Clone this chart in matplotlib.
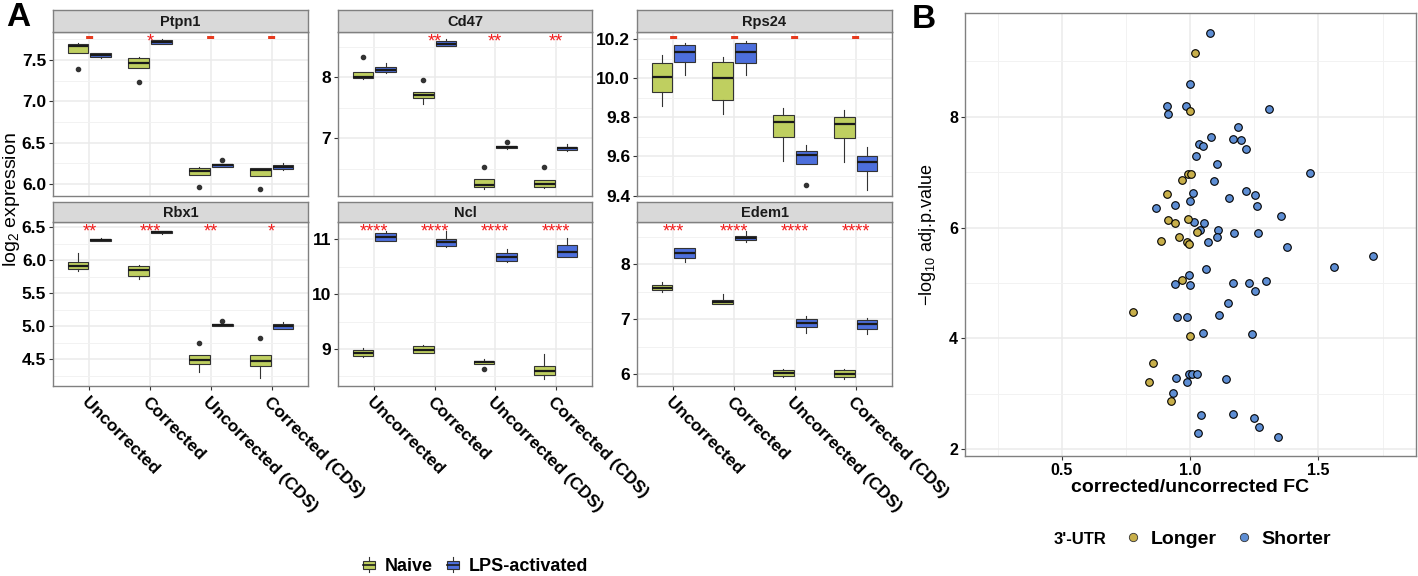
import numpy as np
import matplotlib.pyplot as plt
from matplotlib.lines import Line2D
from matplotlib.patches import Patch, Rectangle
from matplotlib.legend_handler import HandlerBase

plt.rcParams['font.family'] = ['Liberation Sans', 'DejaVu Sans']
plt.rcParams['mathtext.fontset'] = 'custom'
plt.rcParams['mathtext.rm'] = 'Liberation Sans'
plt.rcParams['mathtext.it'] = 'Liberation Sans:italic'
plt.rcParams['mathtext.bf'] = 'Liberation Sans:bold'

# ---- Panel A data: five-number summaries [whislo, q1, med, q3, whishi] ----
conditions = ["Uncorrected", "Corrected", "Uncorrected (CDS)", "Corrected (CDS)"]
genes = ["Ptpn1", "Cd47", "Rps24", "Rbx1", "Ncl", "Edem1"]

ptpn1_naive = [[7.59, 7.59, 7.67, 7.69, 7.71], [7.41, 7.41, 7.47, 7.52, 7.54],
               [6.11, 6.11, 6.16, 6.19, 6.20], [6.10, 6.10, 6.17, 6.19, 6.19]]
ptpn1_naive_out = [[7.39], [7.23], [5.96], [5.94]]
ptpn1_lps = [[7.52, 7.54, 7.56, 7.58, 7.58], [7.70, 7.70, 7.72, 7.74, 7.75],
             [6.21, 6.21, 6.23, 6.24, 6.24], [6.17, 6.18, 6.21, 6.23, 6.26]]
ptpn1_lps_out = [[], [], [6.29], []]
ptpn1_sig = ["-", "*", "-", "-"]

cd47_naive = [[7.97, 7.98, 8.00, 8.09, 8.09], [7.56, 7.65, 7.70, 7.76, 7.76],
              [6.17, 6.19, 6.23, 6.33, 6.33], [6.18, 6.20, 6.25, 6.31, 6.31]]
cd47_naive_out = [[8.33], [7.96], [6.52], [6.52]]
cd47_lps = [[8.07, 8.08, 8.12, 8.16, 8.23], [8.51, 8.51, 8.55, 8.59, 8.62],
            [6.82, 6.83, 6.85, 6.87, 6.87], [6.79, 6.80, 6.83, 6.86, 6.90]]
cd47_lps_out = [[], [], [6.94], []]
cd47_sig = ["", "**", "**", "**"]

rps24_naive = [[9.86, 9.927, 10.007, 10.077, 10.12], [9.815, 9.89, 10.0, 10.085, 10.11],
               [9.575, 9.70, 9.774, 9.81, 9.85], [9.57, 9.695, 9.765, 9.80, 9.837]]
rps24_naive_out = [[], [], [], []]
rps24_lps = [[10.015, 10.085, 10.135, 10.17, 10.18], [10.017, 10.077, 10.136, 10.18, 10.19],
             [9.561, 9.561, 9.609, 9.628, 9.66], [9.43, 9.527, 9.574, 9.60, 9.646]]
rps24_lps_out = [[], [], [9.454], []]
rps24_sig = ["-", "-", "-", "-"]

rbx1_naive = [[5.84, 5.874, 5.92, 5.98, 6.106], [5.71, 5.758, 5.853, 5.92, 5.93],
              [4.31, 4.435, 4.49, 4.56, 4.56], [4.21, 4.40, 4.475, 4.565, 4.565]]
rbx1_naive_out = [[], [], [4.75], [4.82]]
rbx1_lps = [[6.30, 6.30, 6.315, 6.33, 6.34], [6.40, 6.41, 6.425, 6.44, 6.45],
            [5.0, 5.0, 5.02, 5.035, 5.035], [4.96, 4.965, 5.005, 5.04, 5.06]]
rbx1_lps_out = [[], [], [5.08], []]
rbx1_sig = ["**", "***", "**", "*"]

ncl_naive = [[8.85, 8.866, 8.93, 8.975, 9.02], [8.93, 8.93, 8.99, 9.05, 9.08],
             [8.72, 8.72, 8.76, 8.79, 8.82], [8.45, 8.52, 8.59, 8.69, 8.90]]
ncl_naive_out = [[], [], [8.64], []]
ncl_lps = [[10.96, 10.96, 11.04, 11.11, 11.15], [10.865, 10.88, 10.945, 11.01, 11.15],
           [10.59, 10.61, 10.68, 10.756, 10.83], [10.67, 10.67, 10.77, 10.90, 11.02]]
ncl_lps_out = [[], [], [], []]
ncl_sig = ["****", "****", "****", "****"]

edem1_naive = [[7.50, 7.53, 7.575, 7.62, 7.67], [7.27, 7.27, 7.31, 7.35, 7.45],
               [5.94, 5.97, 6.02, 6.07, 6.09], [5.92, 5.95, 6.01, 6.07, 6.09]]
edem1_naive_out = [[], [], [], []]
edem1_lps = [[8.04, 8.11, 8.21, 8.29, 8.29], [8.40, 8.43, 8.48, 8.52, 8.60],
             [6.75, 6.85, 6.93, 7.00, 7.05], [6.73, 6.82, 6.92, 6.99, 7.03]]
edem1_lps_out = [[], [], [], []]
edem1_sig = ["***", "****", "****", "****"]

# ---- Panel B data ----
fc_longer = [1.018, 0.999, 0.990, 1.004, 0.970, 0.910, 0.912, 0.942, 0.992, 1.025,
             0.955, 0.888, 0.987, 0.996, 0.969, 0.777, 0.999, 0.857, 0.840, 0.925]
logp_longer = [9.15, 8.10, 6.97, 6.97, 6.86, 6.61, 6.13, 6.08, 6.16, 5.92,
               5.83, 5.75, 5.73, 5.71, 5.05, 4.47, 4.05, 3.55, 3.22, 2.88]
fc_shorter = [1.078, 0.999, 0.909, 0.984, 0.913, 1.306, 1.187, 1.082, 1.169, 1.197,
              1.034, 1.051, 1.219, 1.022, 1.105, 1.466, 1.094, 1.010, 1.217, 1.251,
              1.152, 0.999, 0.943, 0.866, 1.260, 1.356, 1.017, 1.055, 1.039, 1.109,
              1.170, 1.265, 1.103, 1.069, 1.379, 1.713, 1.562, 1.061, 0.995, 0.940,
              0.999, 1.168, 1.229, 1.297, 1.251, 1.148, 1.112, 0.949, 0.986, 1.051,
              1.240, 0.995, 1.008, 1.027, 0.944, 1.138, 0.987, 0.932, 1.044, 1.168,
              1.248, 1.268, 1.032, 1.342]
logp_shorter = [9.51, 8.58, 8.20, 8.19, 8.05, 8.14, 7.82, 7.64, 7.60, 7.58,
                7.51, 7.47, 7.42, 7.29, 7.15, 6.98, 6.83, 6.62, 6.65, 6.58,
                6.54, 6.48, 6.40, 6.35, 6.38, 6.20, 6.10, 6.09, 5.96, 5.95,
                5.90, 5.90, 5.82, 5.73, 5.65, 5.49, 5.28, 5.26, 5.14, 4.99,
                4.96, 5.00, 5.00, 5.03, 4.86, 4.63, 4.42, 4.38, 4.38, 4.10,
                4.08, 3.36, 3.36, 3.36, 3.29, 3.27, 3.21, 3.02, 2.61, 2.64,
                2.57, 2.41, 2.29, 2.23]

NAIVE = '#BFCF60'
LPS = '#4D6FDC'
LONGER = '#C8AF4A'
SHORTER = '#5E8ED4'
GRID = '#EBEBEB'
BORDER = '#808080'

W, H = 1418, 576
fig = plt.figure(figsize=(W / 100, H / 100), dpi=100)


def px_axes(x0, y0, x1, y1):
    return fig.add_axes([x0 / W, 1 - y1 / H, (x1 - x0) / W, (y1 - y0) / H])


def style_border(ax):
    for sp in ax.spines.values():
        sp.set_color(BORDER)
        sp.set_linewidth(1.0)


def summaries(summ, outs):
    return [dict(whislo=s[0], q1=s[1], med=s[2], q3=s[3], whishi=s[4], fliers=o)
            for s, o in zip(summ, outs)]


panels = [
    (ptpn1_naive, ptpn1_naive_out, ptpn1_lps, ptpn1_lps_out, ptpn1_sig, (5.855, 7.84), np.arange(6.0, 7.51, 0.5), 0.25),
    (cd47_naive, cd47_naive_out, cd47_lps, cd47_lps_out, cd47_sig, (6.05, 8.74), [7, 8], 0.5),
    (rps24_naive, rps24_naive_out, rps24_lps, rps24_lps_out, rps24_sig, (9.398, 10.236), np.arange(9.4, 10.21, 0.2), 0.1),
    (rbx1_naive, rbx1_naive_out, rbx1_lps, rbx1_lps_out, rbx1_sig, (4.09, 6.576), np.arange(4.5, 6.51, 0.5), 0.25),
    (ncl_naive, ncl_naive_out, ncl_lps, ncl_lps_out, ncl_sig, (8.32, 11.31), [9, 10, 11], 0.5),
    (edem1_naive, edem1_naive_out, edem1_lps, edem1_lps_out, edem1_sig, (5.78, 8.76), [6, 7, 8], 0.5),
]

cols = [(53, 308), (338, 592), (637, 892)]
rows = [(32, 196, 10), (222.3, 386.3, 201.7)]
pos = np.arange(1, len(conditions) + 1)

for i, (nv, nvo, lp, lpo, sig, ylim, major, half) in enumerate(panels):
    r, c = divmod(i, 3)
    x0, x1 = cols[c]
    top, bot, stop = rows[r]
    ax = px_axes(x0, top, x1, bot)
    strip = px_axes(x0, stop, x1, top)
    strip.set_facecolor('#D9D9D9')
    strip.set_xticks([])
    strip.set_yticks([])
    style_border(strip)
    strip.text(0.5, 0.45, genes[i], ha='center', va='center', fontsize=10.5,
               fontweight='bold', color='#1A1A1A', transform=strip.transAxes)

    common = dict(widths=0.34, patch_artist=True, showcaps=False, manage_ticks=False,
                  medianprops=dict(color='#1A1A1A', linewidth=1.6),
                  whiskerprops=dict(color='#333333', linewidth=0.8),
                  flierprops=dict(marker='o', markerfacecolor='#333333',
                                  markeredgecolor='#333333', markersize=3))
    ax.bxp(summaries(nv, nvo), positions=pos - 0.1875,
           boxprops=dict(facecolor=NAIVE, edgecolor='#333333', linewidth=0.8), **common)
    ax.bxp(summaries(lp, lpo), positions=pos + 0.1875,
           boxprops=dict(facecolor=LPS, edgecolor='#333333', linewidth=0.8), **common)

    for j, s in enumerate(sig):
        if s == '-':
            ax.annotate('-', xy=(pos[j], 1), xycoords=('data', 'axes fraction'),
                        xytext=(0, -9.5), textcoords='offset points', ha='center',
                        va='baseline', fontsize=20, fontweight='bold', color='#E63B1F')
        elif s:
            ax.annotate(s, xy=(pos[j], 1), xycoords=('data', 'axes fraction'),
                        xytext=(0, -10.3), textcoords='offset points', ha='center',
                        va='baseline', fontsize=13, color='#F21C1C')

    ax.set_xlim(0.4, 4.6)
    ax.set_ylim(*ylim)
    ax.set_xticks(pos)
    ax.set_yticks(major)
    ax.set_yticks([m + half for m in major if m + half < ylim[1]] +
                  [m - half for m in major[:1] if m - half > ylim[0]], minor=True)
    ax.grid(which='major', color=GRID, linewidth=1.1)
    ax.grid(which='minor', axis='y', color='#F2F2F2', linewidth=0.7)
    ax.set_axisbelow(True)
    style_border(ax)
    step = major[1] - major[0]
    if abs(step - round(step)) < 1e-6:
        ylabels = ['%d' % m for m in major]
    else:
        ylabels = ['%.1f' % m for m in major]
    ax.set_yticklabels(ylabels, fontsize=12.5, fontweight='bold')
    ax.tick_params(axis='y', which='major', length=3, width=0.8, color='#333333', pad=2)
    ax.tick_params(which='minor', length=0)
    if r == 0:
        ax.tick_params(axis='x', length=0, labelbottom=False)
    else:
        ax.set_xticklabels(conditions, rotation=-45, ha='left', va='top',
                           rotation_mode='anchor', fontsize=12.5, fontweight='bold')
        ax.tick_params(axis='x', length=3, width=0.8, color='#333333', pad=3)

fig.text(12 / W, 1 - 200 / H, 'log$_2$ expression', rotation=90, ha='center',
         va='center', fontsize=14)
fig.text(6 / W, 1 - 17 / H, 'A', fontsize=24, fontweight='bold', ha='left', va='center')
fig.text(912 / W, 1 - 19 / H, 'B', fontsize=24, fontweight='bold', ha='left', va='center')


class BoxKey(HandlerBase):
    def create_artists(self, legend, orig_handle, xdescent, ydescent, width, height,
                       fontsize, trans):
        fc = orig_handle.get_facecolor()
        cx = -xdescent + width / 2
        bw = width * 0.8
        bh = height * 0.55
        yb = -ydescent + (height - bh) / 2
        w1 = Line2D([cx, cx], [-ydescent, yb], color='#333333', lw=0.8, transform=trans)
        w2 = Line2D([cx, cx], [yb + bh, -ydescent + height], color='#333333', lw=0.8,
                    transform=trans)
        rect = Rectangle((cx - bw / 2, yb), bw, bh, facecolor=fc, edgecolor='#333333',
                         lw=0.8, transform=trans)
        med = Line2D([cx - bw / 2, cx + bw / 2], [yb + bh / 2] * 2, color='#1A1A1A',
                     lw=1.2, transform=trans)
        return [w1, w2, rect, med]


fig.legend(handles=[Patch(facecolor=NAIVE), Patch(facecolor=LPS)],
           labels=['Naive', 'LPS-activated'], handler_map={Patch: BoxKey()},
           loc='center', bbox_to_anchor=(475 / W, 1 - 566 / H), ncol=2, frameon=False,
           prop=dict(weight='bold', size=13), handlelength=0.8, handleheight=0.9,
           handletextpad=0.5, columnspacing=0.7, borderpad=0)

# ---- Panel B ----
axB = px_axes(965, 13.3, 1415.7, 455.7)
axB.scatter(fc_shorter, logp_shorter, s=30, c=SHORTER, edgecolors='black',
            linewidths=0.8, zorder=3)
axB.scatter(fc_longer, logp_longer, s=30, c=LONGER, edgecolors='black',
            linewidths=0.8, zorder=3)
axB.set_xlim(0.123, 1.879)
axB.set_ylim(1.885, 9.863)
axB.set_xticks([0.5, 1.0, 1.5])
axB.set_xticks([0.25, 0.75, 1.25, 1.75], minor=True)
axB.set_yticks([2, 4, 6, 8])
axB.set_yticks([3, 5, 7, 9], minor=True)
axB.set_xticklabels(['0.5', '1.0', '1.5'], fontsize=11.5, fontweight='bold')
axB.set_yticklabels(['2', '4', '6', '8'], fontsize=11.5, fontweight='bold')
axB.grid(which='major', color=GRID, linewidth=1.1)
axB.grid(which='minor', color='#F2F2F2', linewidth=0.7)
axB.set_axisbelow(True)
style_border(axB)
axB.tick_params(which='major', length=3, width=0.8, color='#333333', pad=2)
axB.tick_params(which='minor', length=0)
axB.set_xlabel('corrected/uncorrected FC', fontsize=14, fontweight='bold', labelpad=1)
axB.set_ylabel('$-$log$_{10}$ adj.p.value', fontsize=13, labelpad=8)

fig.text(1080 / W, 1 - 539 / H, "3'-UTR", fontsize=12, fontweight='bold',
         ha='center', va='center')
hB = [Line2D([], [], ls='', marker='o', markersize=6, markerfacecolor=LONGER,
             markeredgecolor='#333333', markeredgewidth=0.6),
      Line2D([], [], ls='', marker='o', markersize=6, markerfacecolor=SHORTER,
             markeredgecolor='#333333', markeredgewidth=0.6)]
fig.legend(handles=hB, labels=['Longer', 'Shorter'], loc='center',
           bbox_to_anchor=(1227 / W, 1 - 539 / H), ncol=2, frameon=False,
           prop=dict(weight='bold', size=14), handlelength=1.0, handletextpad=0.4,
           columnspacing=0.9, borderpad=0)

fig.savefig('out.png', dpi=100)
